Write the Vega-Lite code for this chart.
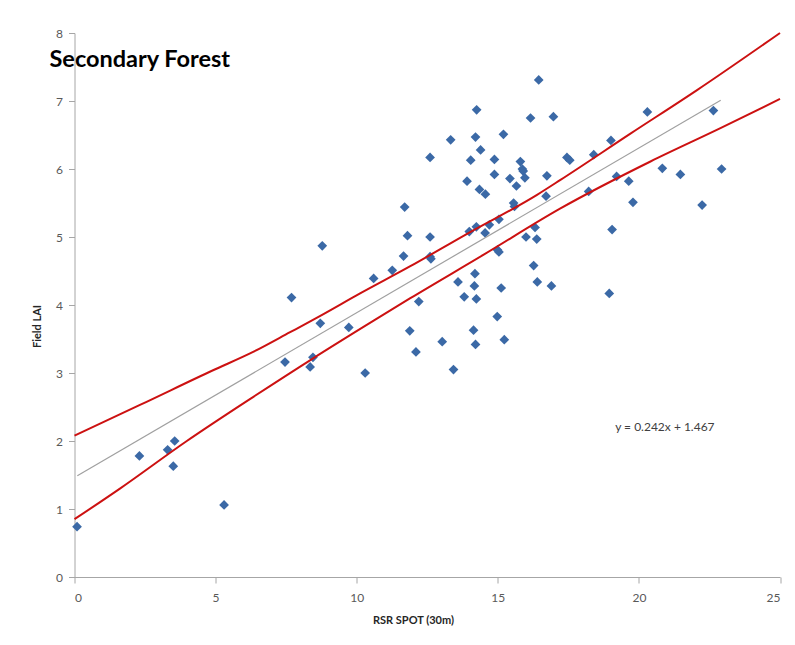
{
  "$schema": "https://vega.github.io/schema/vega-lite/v6.json",
  "width": 705.5,
  "height": 544,
  "autosize": {"type": "none"},
  "padding": {"left": 74.5, "top": 33, "right": 15, "bottom": 68},
  "background": "white",
  "config": {"view": {"stroke": null}},
  "title": {
    "text": "Secondary Forest",
    "anchor": "start",
    "frame": "group",
    "font": "Lato",
    "fontSize": 23.5,
    "fontWeight": "bold",
    "color": "#000000",
    "dx": -25,
    "offset": -44
  },
  "datasets": {
    "pts": [
      {"rsr": 0.09, "lai": 0.74}, {"rsr": 2.3, "lai": 1.78}, {"rsr": 3.3, "lai": 1.87}, {"rsr": 3.55, "lai": 2.0},
      {"rsr": 3.5, "lai": 1.63}, {"rsr": 5.3, "lai": 1.06}, {"rsr": 7.46, "lai": 3.16}, {"rsr": 7.69, "lai": 4.11},
      {"rsr": 8.35, "lai": 3.09}, {"rsr": 8.45, "lai": 3.23}, {"rsr": 8.71, "lai": 3.73}, {"rsr": 8.78, "lai": 4.87},
      {"rsr": 9.72, "lai": 3.67}, {"rsr": 10.3, "lai": 3.0}, {"rsr": 10.6, "lai": 4.39}, {"rsr": 11.26, "lai": 4.51},
      {"rsr": 11.7, "lai": 5.44}, {"rsr": 11.8, "lai": 5.02}, {"rsr": 11.66, "lai": 4.72}, {"rsr": 11.88, "lai": 3.62},
      {"rsr": 12.2, "lai": 4.05}, {"rsr": 12.1, "lai": 3.31}, {"rsr": 12.6, "lai": 6.17}, {"rsr": 12.6, "lai": 5.0},
      {"rsr": 12.6, "lai": 4.71}, {"rsr": 12.63, "lai": 4.68}, {"rsr": 13.03, "lai": 3.46}, {"rsr": 13.33, "lai": 6.43},
      {"rsr": 13.43, "lai": 3.05}, {"rsr": 13.59, "lai": 4.34}, {"rsr": 13.81, "lai": 4.12}, {"rsr": 13.91, "lai": 5.82},
      {"rsr": 13.99, "lai": 5.08}, {"rsr": 14.04, "lai": 6.13}, {"rsr": 14.14, "lai": 3.63}, {"rsr": 14.17, "lai": 4.28},
      {"rsr": 14.19, "lai": 4.46}, {"rsr": 14.21, "lai": 3.42}, {"rsr": 14.21, "lai": 6.47}, {"rsr": 14.24, "lai": 4.09},
      {"rsr": 14.24, "lai": 5.15}, {"rsr": 14.25, "lai": 6.87}, {"rsr": 14.35, "lai": 5.7}, {"rsr": 14.39, "lai": 6.28},
      {"rsr": 14.55, "lai": 5.06}, {"rsr": 14.56, "lai": 5.63}, {"rsr": 14.7, "lai": 5.18}, {"rsr": 14.88, "lai": 6.14},
      {"rsr": 14.88, "lai": 5.92}, {"rsr": 14.98, "lai": 3.83}, {"rsr": 14.99, "lai": 4.81}, {"rsr": 15.04, "lai": 4.78},
      {"rsr": 15.04, "lai": 5.26}, {"rsr": 15.12, "lai": 4.25}, {"rsr": 15.2, "lai": 6.51}, {"rsr": 15.23, "lai": 3.49},
      {"rsr": 15.43, "lai": 5.86}, {"rsr": 15.56, "lai": 5.5}, {"rsr": 15.59, "lai": 5.45}, {"rsr": 15.66, "lai": 5.75},
      {"rsr": 15.8, "lai": 6.11}, {"rsr": 15.87, "lai": 6.0}, {"rsr": 15.9, "lai": 5.97}, {"rsr": 15.96, "lai": 5.87},
      {"rsr": 16.0, "lai": 5.0}, {"rsr": 16.16, "lai": 6.75}, {"rsr": 16.27, "lai": 4.58}, {"rsr": 16.32, "lai": 5.14},
      {"rsr": 16.38, "lai": 4.97}, {"rsr": 16.4, "lai": 4.34}, {"rsr": 16.45, "lai": 7.31}, {"rsr": 16.71, "lai": 5.6},
      {"rsr": 16.74, "lai": 5.9}, {"rsr": 16.9, "lai": 4.28}, {"rsr": 16.97, "lai": 6.77}, {"rsr": 17.45, "lai": 6.17},
      {"rsr": 17.55, "lai": 6.13}, {"rsr": 18.22, "lai": 5.67}, {"rsr": 18.4, "lai": 6.21}, {"rsr": 18.95, "lai": 4.17},
      {"rsr": 19.01, "lai": 6.42}, {"rsr": 19.05, "lai": 5.11}, {"rsr": 19.21, "lai": 5.89}, {"rsr": 19.64, "lai": 5.82},
      {"rsr": 19.79, "lai": 5.51}, {"rsr": 20.3, "lai": 6.84}, {"rsr": 20.83, "lai": 6.01}, {"rsr": 21.47, "lai": 5.92},
      {"rsr": 22.24, "lai": 5.47}, {"rsr": 22.64, "lai": 6.86}, {"rsr": 22.93, "lai": 6.0}
    ],
    "bands": [
      {"band": "upper", "rsr": 0, "lai": 2.08}, {"band": "upper", "rsr": 2.32, "lai": 2.53},
      {"band": "upper", "rsr": 4.91, "lai": 3.04}, {"band": "upper", "rsr": 6.33, "lai": 3.31},
      {"band": "upper", "rsr": 7.64, "lai": 3.6}, {"band": "upper", "rsr": 8.71, "lai": 3.84},
      {"band": "upper", "rsr": 10.12, "lai": 4.17}, {"band": "upper", "rsr": 11.9, "lai": 4.57},
      {"band": "upper", "rsr": 13.88, "lai": 5.04}, {"band": "upper", "rsr": 16.39, "lai": 5.62},
      {"band": "upper", "rsr": 17.22, "lai": 5.84}, {"band": "upper", "rsr": 19.7, "lai": 6.52},
      {"band": "upper", "rsr": 22.06, "lai": 7.16}, {"band": "upper", "rsr": 25, "lai": 8.0},
      {"band": "lower", "rsr": 0, "lai": 0.85}, {"band": "lower", "rsr": 1.61, "lai": 1.3},
      {"band": "lower", "rsr": 3.98, "lai": 2.0}, {"band": "lower", "rsr": 6.34, "lai": 2.65},
      {"band": "lower", "rsr": 8.47, "lai": 3.22}, {"band": "lower", "rsr": 10.6, "lai": 3.77},
      {"band": "lower", "rsr": 11.9, "lai": 4.1}, {"band": "lower", "rsr": 14.5, "lai": 4.74},
      {"band": "lower", "rsr": 17.22, "lai": 5.42}, {"band": "lower", "rsr": 20.41, "lai": 6.11},
      {"band": "lower", "rsr": 22.89, "lai": 6.6}, {"band": "lower", "rsr": 25, "lai": 7.03}
    ],
    "fit": [
      {"rsr": 0.1, "lai": 1.49}, {"rsr": 22.9, "lai": 7.01}
    ],
    "eq": [
      {"rsr": 20.92, "lai": 2.21, "label": "y = 0.242x + 1.467"}
    ]
  },
  "layer": [
    {
      "data": {"name": "pts"},
      "mark": {"type": "point", "shape": "diamond", "filled": true, "size": 95, "color": "#3b69a6", "opacity": 1},
      "encoding": {
        "x": {
          "field": "rsr", "type": "quantitative",
          "scale": {"domain": [0, 25], "nice": false, "zero": false},
          "axis": {
            "title": "RSR SPOT (30m)",
            "values": [0, 5, 10, 15, 20, 25],
            "format": "d",
            "grid": false,
            "domainColor": "#a6a6a6",
            "tickColor": "#a6a6a6",
            "tickSize": 6,
            "labelFont": "Lato",
            "labelFontSize": 12,
            "labelColor": "#595959",
            "labelPadding": 9,
            "titleFont": "Lato",
            "titleFontSize": 11,
            "titleFontWeight": "bold",
            "titleColor": "#262626",
            "titlePadding": 11,
            "titleX": 338.5
          }
        },
        "y": {
          "field": "lai", "type": "quantitative",
          "scale": {"domain": [0, 8], "nice": false, "zero": false},
          "axis": {
            "title": "Field LAI",
            "values": [0, 1, 2, 3, 4, 5, 6, 7, 8],
            "format": "d",
            "grid": false,
            "domainColor": "#a6a6a6",
            "tickColor": "#a6a6a6",
            "tickSize": 6,
            "labelFont": "Lato",
            "labelFontSize": 12,
            "labelColor": "#595959",
            "labelPadding": 6,
            "titleFont": "Lato",
            "titleFontSize": 11,
            "titleFontWeight": "bold",
            "titleColor": "#262626",
            "titlePadding": 13,
            "titleY": 293
          }
        }
      }
    },
    {
      "data": {"name": "fit"},
      "mark": {"type": "line", "color": "#a0a0a0", "strokeWidth": 1.2},
      "encoding": {
        "x": {"field": "rsr", "type": "quantitative"},
        "y": {"field": "lai", "type": "quantitative"}
      }
    },
    {
      "data": {"name": "bands"},
      "mark": {"type": "line", "color": "#cc1111", "strokeWidth": 2, "interpolate": "monotone"},
      "encoding": {
        "x": {"field": "rsr", "type": "quantitative"},
        "y": {"field": "lai", "type": "quantitative"},
        "detail": {"field": "band"}
      }
    },
    {
      "data": {"name": "eq"},
      "mark": {"type": "text", "font": "Lato", "fontSize": 12, "color": "#404040", "align": "center", "baseline": "middle"},
      "encoding": {
        "x": {"field": "rsr", "type": "quantitative"},
        "y": {"field": "lai", "type": "quantitative"},
        "text": {"field": "label"}
      }
    }
  ]
}
